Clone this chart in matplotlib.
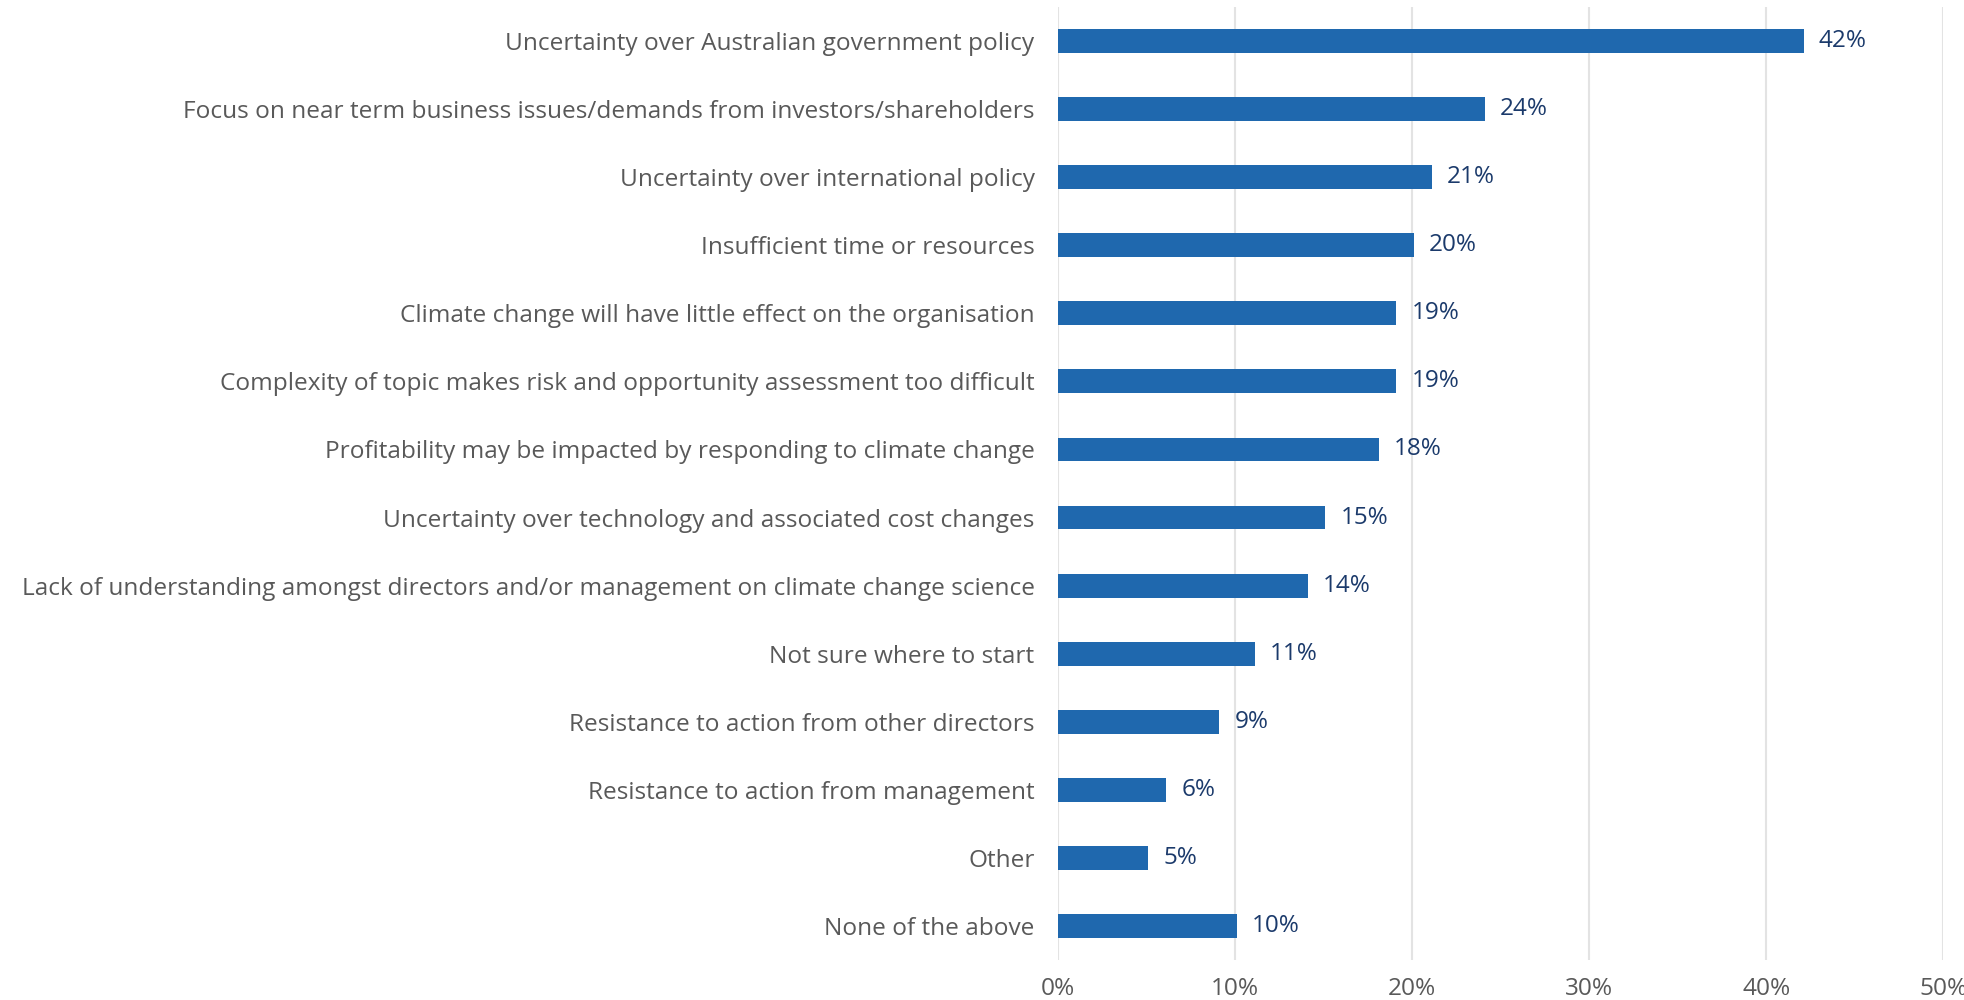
import matplotlib
matplotlib.use('Agg')
from matplotlib import pyplot as plt

categories = [
    'Uncertainty over Australian government policy',
    'Focus on near term business issues/demands from investors/shareholders',
    'Uncertainty over international policy',
    'Insufficient time or resources',
    'Climate change will have little effect on the organisation',
    'Complexity of topic makes risk and opportunity assessment too difficult',
    'Profitability may be impacted by responding to climate change',
    'Uncertainty over technology and associated cost changes',
    'Lack of understanding amongst directors and/or management on climate change science',
    'Not sure where to start',
    'Resistance to action from other directors',
    'Resistance to action from management',
    'Other',
    'None of the above',
]
values = [42, 24, 21, 20, 19, 19, 18, 15, 14, 11, 9, 6, 5, 10]
# bar lengths (labels are rounded)
bar_lengths = [42.1, 24.1, 21.1, 20.1, 19.1, 19.1, 18.1, 15.1, 14.1, 11.1, 9.1, 6.1, 5.1, 10.1]
xticks = [0, 10, 20, 30, 40, 50]

plt.rcParams['font.family'] = ['Open Sans', 'DejaVu Sans']

fig = plt.figure(figsize=(19.65, 10), dpi=100)
ax = fig.add_axes([0.5385, 0.04, 0.4505, 0.953])

pos = list(range(len(categories)))[::-1]
ax.barh(pos, bar_lengths, height=0.35, color='#1f68ae', zorder=3)

# value labels to the right of each bar
for y, v, l in zip(pos, values, bar_lengths):
    ax.text(l + 0.85, y, f'{v}%', va='center', ha='left', fontsize=17.5,
            color='#1b3a6b', fontweight='medium')

ax.set_yticks(pos)
ax.set_yticklabels(categories, fontsize=17.6, color='#595959')
ax.set_xticks(xticks)
ax.set_xticklabels([f'{t}%' for t in xticks], fontsize=17.6, color='#595959')
ax.set_xlim(0, 50)
ax.set_ylim(-0.5, 13.5)

ax.grid(axis='x', color='#e3e3e3', linewidth=1.5, zorder=0)
for s in ax.spines.values():
    s.set_visible(False)
ax.tick_params(axis='both', length=0)
ax.tick_params(axis='y', pad=17)
ax.tick_params(axis='x', pad=12)

plt.savefig('out.png')
